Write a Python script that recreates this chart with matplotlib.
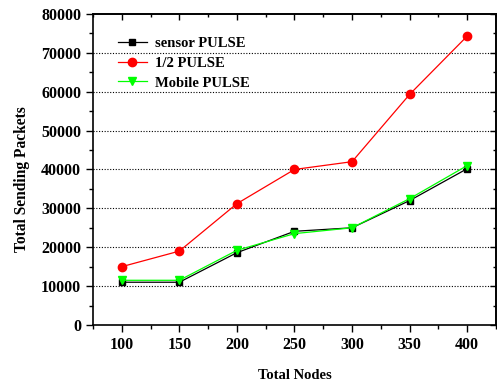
import matplotlib
matplotlib.use("Agg")
import matplotlib.pyplot as plt
from matplotlib.ticker import MultipleLocator, NullFormatter

plt.rcParams['font.family'] = ['Liberation Serif', 'DejaVu Serif']
plt.rcParams['font.weight'] = 'bold'

nodes = [100, 150, 200, 250, 300, 350, 400]
sensor_pulse = [11000, 11000, 18600, 24100, 25000, 32000, 40200]
half_pulse = [15000, 19000, 31200, 40000, 42000, 59300, 74300]
mobile_pulse = [11500, 11500, 19200, 23500, 25000, 32500, 41000]

fig = plt.figure(figsize=(4.97, 3.86), dpi=100)
ax = fig.add_axes([0.187, 0.158, 0.811, 0.806])

ax.plot(nodes, sensor_pulse, color='black', lw=0.9, marker='s', ms=5,
        label='sensor PULSE', zorder=3)
ax.plot(nodes, half_pulse, color='red', lw=0.9, marker='o', ms=6,
        label='1/2 PULSE', zorder=3)
ax.plot(nodes, mobile_pulse, color='#00ff00', lw=0.9, marker='v', ms=6,
        label='Mobile PULSE', zorder=4)

ax.set_xlim(75, 425)
ax.set_ylim(0, 80000)
ax.xaxis.set_major_locator(MultipleLocator(50))
ax.xaxis.set_minor_locator(MultipleLocator(25))
ax.yaxis.set_major_locator(MultipleLocator(10000))
ax.yaxis.set_minor_locator(MultipleLocator(5000))
ax.set_xticks([100, 150, 200, 250, 300, 350, 400])

for yv in range(10000, 80000, 10000):
    ax.axhline(yv, color='black', lw=0.8, ls=(0, (1, 1.5)), zorder=1)

ax.tick_params(which='both', direction='out', labelsize=11.5, width=1)
ax.tick_params(which='major', length=5)
ax.tick_params(which='minor', length=3)
for lab in ax.get_xticklabels() + ax.get_yticklabels():
    lab.set_fontweight('bold')
for s in ax.spines.values():
    s.set_linewidth(1.2)

# mirrored ticks on top and right, pointing inward
top = ax.secondary_xaxis('top')
top.xaxis.set_major_locator(MultipleLocator(50))
top.xaxis.set_minor_locator(MultipleLocator(25))
top.xaxis.set_major_formatter(NullFormatter())
top.tick_params(which='both', direction='in', width=1)
top.tick_params(which='major', length=4)
top.tick_params(which='minor', length=2.5)
right = ax.secondary_yaxis('right')
right.yaxis.set_major_locator(MultipleLocator(10000))
right.yaxis.set_minor_locator(MultipleLocator(5000))
right.yaxis.set_major_formatter(NullFormatter())
right.tick_params(which='both', direction='in', width=1)
right.tick_params(which='major', length=4)
right.tick_params(which='minor', length=2.5)
for s in list(top.spines.values()) + list(right.spines.values()):
    s.set_linewidth(1.2)

ax.set_xlabel('Total Nodes', fontsize=10.5, fontweight='bold')
ax.xaxis.set_label_coords(0.5, -0.142)
ax.set_ylabel('Total Sending Packets', fontsize=11.2, fontweight='bold')
ax.yaxis.set_label_coords(-0.155, 0.47)

leg = ax.legend(loc='upper left', bbox_to_anchor=(0.047, 0.945), frameon=False,
                fontsize=10.5, handlelength=2.0, handletextpad=0.55,
                labelspacing=0.45, borderaxespad=0)
for t in leg.get_texts():
    t.set_fontweight('bold')

fig.savefig('out.png', dpi=100)
